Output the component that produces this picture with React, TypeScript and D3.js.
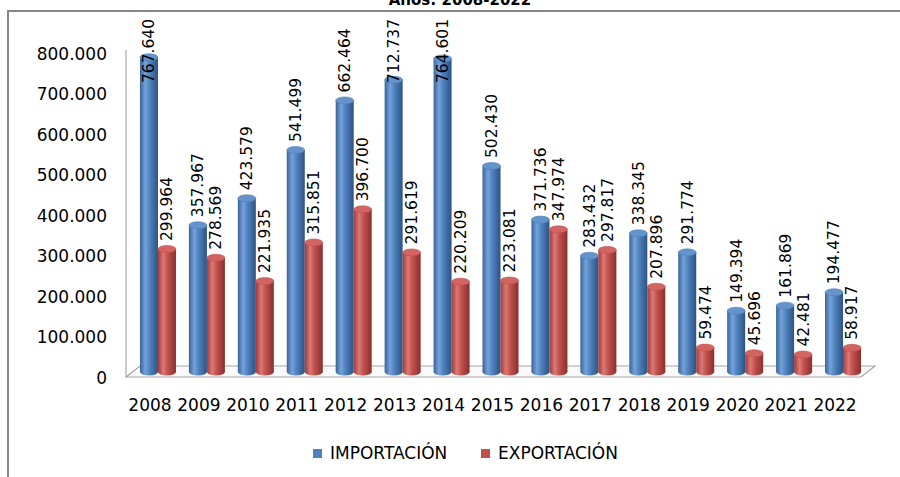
import { useEffect, useRef } from 'react';
import * as d3 from 'd3';

const years = ['2008', '2009', '2010', '2011', '2012', '2013', '2014', '2015', '2016', '2017', '2018', '2019', '2020', '2021', '2022'];
const importacion = [767640, 357967, 423579, 541499, 662464, 712737, 764601, 502430, 371736, 283432, 338345, 291774, 149394, 161869, 194477];
const exportacion = [299964, 278569, 221935, 315851, 396700, 291619, 220209, 223081, 347974, 297817, 207896, 59474, 45696, 42481, 58917];
const seriesNames = ['IMPORTACIÓN', 'EXPORTACIÓN'];
const yTicks = [0, 100000, 200000, 300000, 400000, 500000, 600000, 700000, 800000];
const title = 'Años: 2008-2022';

const FONT = 'DejaVu Sans, sans-serif';

export default function App() {
  const ref = useRef<SVGSVGElement>(null);

  useEffect(() => {
    if (!ref.current) return;
    const svg = d3.select(ref.current);
    svg.selectAll('*').remove();

    const fmt = d3.formatLocale({ decimal: ',', thousands: '.', grouping: [3], currency: ['', ''] }).format(',d');

    // scales: axis on the front plane, bars a bit further back
    const yAxis = d3.scaleLinear().domain([0, 800000]).range([378, 54]);
    const yBar = d3.scaleLinear().domain([0, 800000]).range([372, 44]);
    const x = d3.scaleBand().domain(years).range([133.5, 867.5]).paddingInner(0.264).paddingOuter(0.132);
    const xs = d3.scaleBand().domain(seriesNames).range([0, x.bandwidth()]);
    const w = xs.bandwidth();

    const colors: Record<string, { dark: string; light: string; mid: string; edge: string; top: string }> = {
      'IMPORTACIÓN': { dark: '#3A6498', light: '#74A2DA', mid: '#4F81BD', edge: '#2C5384', top: '#6593CB' },
      'EXPORTACIÓN': { dark: '#9E3C39', light: '#DC7875', mid: '#C0504D', edge: '#8A302D', top: '#D26562' },
    };

    const defs = svg.append('defs');
    seriesNames.forEach((s, i) => {
      const c = colors[s];
      const g = defs.append('linearGradient').attr('id', `cyl${i}`).attr('x1', '0%').attr('x2', '100%');
      g.append('stop').attr('offset', '0%').attr('stop-color', c.dark);
      g.append('stop').attr('offset', '30%').attr('stop-color', c.light);
      g.append('stop').attr('offset', '55%').attr('stop-color', c.mid);
      g.append('stop').attr('offset', '100%').attr('stop-color', c.edge);
    });

    // frame
    svg.append('path')
      .attr('d', 'M8,477 V11 H900')
      .attr('fill', 'none')
      .attr('stroke', '#868686')
      .attr('stroke-width', 2);

    // title (cut off at the top like the source)
    svg.append('text')
      .attr('x', 460)
      .attr('y', 5)
      .attr('text-anchor', 'middle')
      .attr('font-family', FONT)
      .attr('font-weight', 'bold')
      .attr('font-size', 15)
      .text(title);

    // floor and axis
    svg.append('polygon')
      .attr('points', '126,377 140,366 875,366 861,377')
      .attr('fill', '#fafafa')
      .attr('stroke', '#a6a6a6')
      .attr('stroke-width', 1.2);
    svg.append('line')
      .attr('x1', 126).attr('x2', 126)
      .attr('y1', 50).attr('y2', 377)
      .attr('stroke', '#a6a6a6')
      .attr('stroke-width', 1.2);

    // y tick labels
    svg.selectAll('.ytick')
      .data(yTicks)
      .enter()
      .append('text')
      .attr('x', 107)
      .attr('y', (d) => yAxis(d))
      .attr('dy', '0.35em')
      .attr('text-anchor', 'end')
      .attr('font-family', FONT)
      .attr('font-size', 17)
      .attr('fill', '#000')
      .text((d) => fmt(d));

    // bars
    const data = [importacion, exportacion];
    years.forEach((yr, i) => {
      seriesNames.forEach((s, si) => {
        const v = data[si][i];
        const cx = (x(yr) as number) + (xs(s) as number) + w / 2;
        const top = yBar(v);
        const bottom = yBar(0);
        const g = svg.append('g');
        g.append('ellipse')
          .attr('cx', cx).attr('cy', bottom)
          .attr('rx', w / 2).attr('ry', 3.5)
          .attr('fill', `url(#cyl${si})`);
        g.append('rect')
          .attr('x', cx - w / 2).attr('y', top)
          .attr('width', w).attr('height', bottom - top)
          .attr('fill', `url(#cyl${si})`);
        g.append('ellipse')
          .attr('cx', cx).attr('cy', top)
          .attr('rx', w / 2).attr('ry', 3.5)
          .attr('fill', colors[s].top)
          .attr('stroke', colors[s].mid)
          .attr('stroke-width', 0.6);
      });
    });

    // value labels
    years.forEach((yr, i) => {
      seriesNames.forEach((s, si) => {
        const v = data[si][i];
        const cx = (x(yr) as number) + (xs(s) as number) + w / 2;
        const yb = Math.max(yBar(v) - 8, 83);
        svg.append('text')
          .attr('transform', `translate(${cx},${yb}) rotate(-90)`)
          .attr('dy', '0.35em')
          .attr('text-anchor', 'start')
          .attr('font-family', FONT)
          .attr('font-size', 15.5)
          .attr('fill', '#000')
          .text(fmt(v));
      });
    });

    // year labels
    svg.selectAll('.xtick')
      .data(years)
      .enter()
      .append('text')
      .attr('x', (d) => (x(d) as number) + x.bandwidth() / 2 - 8)
      .attr('y', 411)
      .attr('text-anchor', 'middle')
      .attr('font-family', FONT)
      .attr('font-size', 17)
      .attr('fill', '#000')
      .text((d) => d);

    // legend
    const legendX = [313, 481];
    seriesNames.forEach((s, si) => {
      svg.append('rect')
        .attr('x', legendX[si]).attr('y', 449)
        .attr('width', 9).attr('height', 9)
        .attr('fill', colors[s].mid);
      svg.append('text')
        .attr('x', legendX[si] + 17)
        .attr('y', 459)
        .attr('font-family', FONT)
        .attr('font-size', 17)
        .attr('fill', '#000')
        .text(s);
    });
  }, []);

  return (
    <svg
      ref={ref}
      width={900}
      height={477}
      style={{ position: 'absolute', left: 0, top: 0, background: '#fff' }}
    />
  );
}
